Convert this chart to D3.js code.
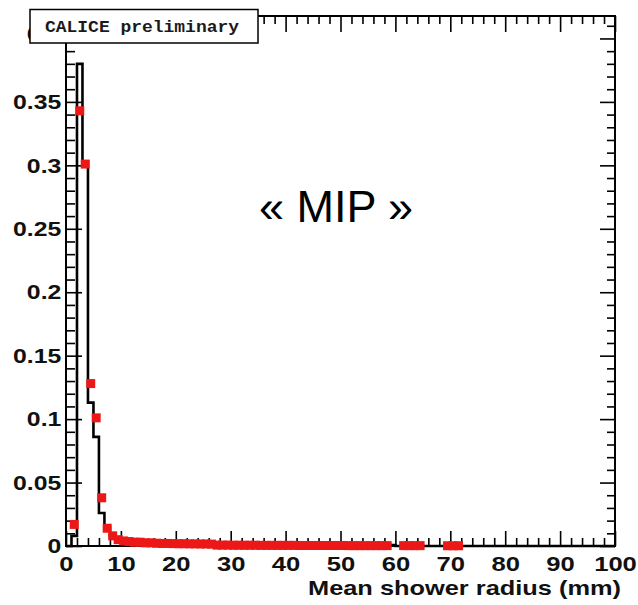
<!DOCTYPE html>
<html>
<head>
<meta charset="utf-8">
<script src="https://cdn.jsdelivr.net/npm/d3@7"></script>
<style>
  body { margin: 0; background: #fff; }
  svg { display: block; }
</style>
</head>
<body>
<div id="chart"></div>
<script>
// tick values and labels
var xMajorTicks = [0, 10, 20, 30, 40, 50, 60, 70, 80, 90, 100];
var yMajorTicks = [0, 0.05, 0.1, 0.15, 0.2, 0.25, 0.3, 0.35, 0.4];
var yTickLabels = ["0", "0.05", "0.1", "0.15", "0.2", "0.25", "0.3", "0.35", "0.4"];

// simulation histogram (black line), bin i covers [i, i+1] mm
var mcBinStart = 0;
var mcValues = [0, 0.008, 0.380, 0.303, 0.113, 0.086, 0.026, 0.015, 0.008, 0.006,
                0.005, 0.0045, 0.0045, 0.0042, 0.0042, 0.004, 0.004, 0.004, 0.0038, 0.0038,
                0.0037, 0.0037, 0.0036, 0.0036, 0.0035, 0.0035, 0.0034, 0.0016, 0.0016, 0.0015,
                0.0015, 0.0015, 0.0014, 0.0014, 0.0014, 0.0014, 0.0013, 0.0013, 0.0013, 0.0013,
                0.0012, 0.0012, 0.0012, 0.0012, 0.0012, 0.0011, 0.0011, 0.0011, 0.0011, 0.0011,
                0.001, 0.001, 0.001, 0.001, 0.001, 0.001, 0.0009, 0.0009, 0.0009, 0.0008];

// data points (red squares), bin centers in mm
var dataX = [1.5, 2.5, 3.5, 4.5, 5.5, 6.5, 7.5, 8.5, 9.5, 10.5,
             11.5, 12.5, 13.5, 14.5, 15.5, 16.5, 17.5, 18.5, 19.5, 20.5,
             21.5, 22.5, 23.5, 24.5, 25.5, 26.5, 27.5, 28.5, 29.5, 30.5,
             31.5, 32.5, 33.5, 34.5, 35.5, 36.5, 37.5, 38.5, 39.5, 40.5,
             41.5, 42.5, 43.5, 44.5, 45.5, 46.5, 47.5, 48.5, 49.5, 50.5,
             51.5, 52.5, 53.5, 54.5, 55.5, 56.5, 57.5, 58.5,
             61.5, 62.5, 63.5, 64.5, 69.5, 70.5, 71.5];
var dataY = [0.017, 0.343, 0.301, 0.128, 0.101, 0.038, 0.014, 0.008, 0.005, 0.004,
             0.0035, 0.003, 0.003, 0.0025, 0.0025, 0.0022, 0.002, 0.002, 0.0019, 0.0018,
             0.0018, 0.0017, 0.0017, 0.0016, 0.0016, 0.0015, 0.0007, 0.0007, 0.0007, 0.0006,
             0.0006, 0.0006, 0.0006, 0.0006, 0.0005, 0.0005, 0.0005, 0.0005, 0.0005, 0.0005,
             0.0005, 0.0004, 0.0004, 0.0004, 0.0004, 0.0004, 0.0004, 0.0004, 0.0004, 0.0004,
             0.0003, 0.0003, 0.0003, 0.0003, 0.0003, 0.0003, 0.0003, 0.0003,
             0.0003, 0.0003, 0.0003, 0.0003, 0.0002, 0.0002, 0.0002];

var xTitle = "Mean shower radius (mm)";
var labelText = "CALICE preliminary";
var bigText = "\u00ab MIP \u00bb";

// set dimensions of the frame
var W = 638, H = 605;
var frame = {left: 66, right: 615, top: 16, bottom: 546};

var svg = d3.select("#chart")
  .append("svg")
    .attr("width", W)
    .attr("height", H);

var x = d3.scaleLinear()
  .domain([0, 100])
  .range([frame.left, frame.right]);

var y = d3.scaleLinear()
  .domain([0, 0.4177])
  .range([frame.bottom, frame.top]);

var xMinor = d3.range(0, 101, 2).filter(function(d) { return d % 10 !== 0; });
var yMinor = d3.range(0, 0.4177, 0.01).filter(function(d) {
  return Math.abs(d / 0.05 - Math.round(d / 0.05)) > 1e-6;
});

var fontLab = "'Liberation Sans', Arial, Helvetica, sans-serif";

function styleAxis(g) {
  g.select(".domain").remove();
  g.selectAll(".tick line").attr("stroke", "#000").attr("stroke-width", 1.6);
  g.selectAll(".tick text")
    .attr("font-family", fontLab)
    .attr("font-weight", "bold")
    .attr("font-size", 21)
    .attr("fill", "#111");
}

// bottom axis
svg.append("g")
  .attr("transform", "translate(0," + frame.bottom + ")")
  .call(d3.axisBottom(x).tickValues(xMajorTicks).tickSize(-15).tickPadding(10).tickFormat(d3.format("d")))
  .call(styleAxis)
  .selectAll(".tick text")
    .attr("transform", "scale(1.22,1)");
svg.append("g")
  .attr("transform", "translate(0," + frame.bottom + ")")
  .call(d3.axisBottom(x).tickValues(xMinor).tickSize(-8).tickFormat(""))
  .call(styleAxis);

// top axis
svg.append("g")
  .attr("transform", "translate(0," + frame.top + ")")
  .call(d3.axisTop(x).tickValues(xMajorTicks).tickSize(-16).tickFormat(""))
  .call(styleAxis);
svg.append("g")
  .attr("transform", "translate(0," + frame.top + ")")
  .call(d3.axisTop(x).tickValues(xMinor).tickSize(-8).tickFormat(""))
  .call(styleAxis);

// left axis
svg.append("g")
  .attr("transform", "translate(" + frame.left + ",0)")
  .call(d3.axisLeft(y).tickValues(yMajorTicks).tickSize(-16).tickPadding(4)
    .tickFormat(function(d, i) { return yTickLabels[i]; }))
  .call(styleAxis)
  .selectAll(".tick text")
    .attr("transform", function(d) { return d === 0.4 ? "translate(0,-5) scale(1.18,1)" : "scale(1.18,1)"; });
svg.append("g")
  .attr("transform", "translate(" + frame.left + ",0)")
  .call(d3.axisLeft(y).tickValues(yMinor).tickSize(-9).tickFormat(""))
  .call(styleAxis);

// right axis
svg.append("g")
  .attr("transform", "translate(" + frame.right + ",0)")
  .call(d3.axisRight(y).tickValues(yMajorTicks).tickSize(-15).tickFormat(""))
  .call(styleAxis);
svg.append("g")
  .attr("transform", "translate(" + frame.right + ",0)")
  .call(d3.axisRight(y).tickValues(yMinor).tickSize(-8).tickFormat(""))
  .call(styleAxis);

// frame
svg.append("rect")
  .attr("x", frame.left)
  .attr("y", frame.top)
  .attr("width", frame.right - frame.left)
  .attr("height", frame.bottom - frame.top)
  .attr("fill", "none")
  .attr("stroke", "#000")
  .attr("stroke-width", 2);

// histogram step line
var mcPoints = mcValues.map(function(v, i) { return {x: mcBinStart + i, v: v}; });
mcPoints.push({x: mcBinStart + mcValues.length, v: 0});
mcPoints.push({x: 100, v: 0});

var step = d3.line()
  .x(function(d) { return x(d.x); })
  .y(function(d) { return y(d.v); })
  .curve(d3.curveStepAfter);

svg.append("path")
  .datum(mcPoints)
  .attr("d", step)
  .attr("fill", "none")
  .attr("stroke", "#000")
  .attr("stroke-width", 2.6);

// data markers
var ms = 9;
svg.selectAll(".pt")
  .data(dataX)
  .enter()
  .append("rect")
    .attr("class", "pt")
    .attr("x", function(d) { return x(d) - ms / 2; })
    .attr("y", function(d, i) { return y(dataY[i]) - ms / 2; })
    .attr("width", ms)
    .attr("height", ms)
    .attr("fill", "#ec1818");

// x axis title
svg.append("text")
  .attr("x", 621)
  .attr("y", 595)
  .attr("text-anchor", "end")
  .attr("font-family", fontLab)
  .attr("font-weight", "bold")
  .attr("font-size", 21)
  .attr("textLength", 313)
  .attr("lengthAdjust", "spacingAndGlyphs")
  .attr("fill", "#111")
  .text(xTitle);

// big label
svg.append("text")
  .attr("x", 336)
  .attr("y", 222)
  .attr("text-anchor", "middle")
  .attr("font-family", fontLab)
  .attr("font-size", 45)
  .attr("fill", "#000")
  .text(bigText);

// CALICE preliminary box
svg.append("rect")
  .attr("x", 30)
  .attr("y", 9.5)
  .attr("width", 228)
  .attr("height", 33.5)
  .attr("fill", "#fff")
  .attr("stroke", "#000")
  .attr("stroke-width", 1.5);

svg.append("text")
  .attr("x", 45)
  .attr("y", 32)
  .attr("font-family", "'Liberation Mono', 'Courier New', monospace")
  .attr("font-weight", "bold")
  .attr("font-size", 17)
  .attr("textLength", 194)
  .attr("lengthAdjust", "spacingAndGlyphs")
  .attr("fill", "#1a1a1a")
  .text(labelText);

console.log("histogram done");
</script>
</body>
</html>
